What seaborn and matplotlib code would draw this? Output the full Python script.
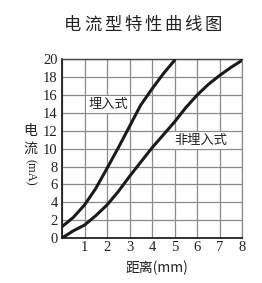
import matplotlib
matplotlib.use("Agg")
import matplotlib.pyplot as plt
import seaborn as sns
import pandas as pd

# Data
x_embedded = [0, 0.5, 1, 1.5, 2, 2.5, 3, 3.5, 4, 4.5, 5]
y_embedded = [1.27, 2.3, 3.7, 5.55, 7.8, 10.1, 12.5, 14.9, 16.7, 18.4, 19.9]
x_nonembedded = [0, 0.5, 1, 1.5, 2, 2.5, 3, 3.5, 4, 4.5, 5, 5.5, 6, 6.5, 7, 7.5, 8]
y_nonembedded = [0, 0.8, 1.45, 2.5, 3.7, 5.2, 6.9, 8.5, 10.1, 11.55, 13.0, 14.6, 16.0, 17.2, 18.2, 19.1, 19.9]
x_ticks = [1, 2, 3, 4, 5, 6, 7, 8]
y_ticks = [0, 2, 4, 6, 8, 10, 12, 14, 16, 18, 20]
title = "电流型特性曲线图"
label_embedded = "埋入式"
label_nonembedded = "非埋入式"
xlabel = "距离(mm)"

sns.set_style("white")
plt.rcParams['font.family'] = ['Noto Sans CJK SC', 'DejaVu Sans']

df = pd.concat([
    pd.DataFrame({"x": x_embedded, "y": y_embedded, "s": label_embedded}),
    pd.DataFrame({"x": x_nonembedded, "y": y_nonembedded, "s": label_nonembedded}),
])

fig = plt.figure(figsize=(2.62, 2.83), dpi=100)
ax = fig.add_axes([62/262, 45/283, 180/262, 178.5/283])

sns.lineplot(data=df, x="x", y="y", hue="s", palette=["#1a1a1a", "#1a1a1a"],
             linewidth=2.2, legend=False, ax=ax, zorder=3, sort=True)

ax.set_xlim(0, 8)
ax.set_ylim(0, 20)
ax.set_xticks(range(0, 9))
ax.set_yticks(y_ticks)
ax.set_xticklabels([""] + [str(v) for v in x_ticks])
ax.set_yticklabels([str(v) for v in y_ticks])
ax.grid(True, color="#8a8a8a", linewidth=0.9, zorder=0)
ax.set_axisbelow(True)
for lbl in ax.get_xticklabels() + ax.get_yticklabels():
    lbl.set_fontfamily("Liberation Serif")
    lbl.set_fontsize(10.5)
    lbl.set_color("#222222")
ax.tick_params(axis="both", length=0, pad=3)
ax.tick_params(axis="x", pad=2)

for side in ["left", "bottom"]:
    ax.spines[side].set_color("#111111")
    ax.spines[side].set_linewidth(1.2)
ax.spines["top"].set_color("#444444")
ax.spines["top"].set_linewidth(1.0)
ax.spines["right"].set_color("#8a8a8a")
ax.spines["right"].set_linewidth(0.9)

ax.set_xlabel("")
ax.set_ylabel("")

bbox = dict(facecolor="white", edgecolor="none", pad=1.5)
ax.text(2.05, 15.0, label_embedded, ha="center", va="center", fontsize=9.5,
        color="#222222", bbox=bbox, zorder=2)
ax.text(6.15, 10.9, label_nonembedded, ha="center", va="center", fontsize=9.5,
        color="#222222", bbox=bbox, zorder=2)

# Title with wide character spacing, as in the reference
pitch = 20.0
n = len(title)
for i, ch in enumerate(title):
    cx = 143 + (i - (n - 1) / 2) * pitch
    fig.text(cx / 262, 1 - 25 / 283, ch, ha="center", va="center",
             fontsize=12.5, color="#222222")

fig.text(157/262, 1 - 268/283, xlabel, ha="center", va="center", fontsize=10,
         color="#222222", family=["Noto Sans CJK SC", "Liberation Serif"])
fig.text(30/262, 1 - 131/283, "电", ha="center", va="center", fontsize=10, color="#222222")
fig.text(30/262, 1 - 149/283, "流", ha="center", va="center", fontsize=10, color="#222222")
fig.text(30/262, 1 - 172/283, "(mA)", ha="center", va="center", fontsize=9, rotation=-90,
         color="#222222", family=["Liberation Serif"])

fig.savefig("out.png", dpi=100)
